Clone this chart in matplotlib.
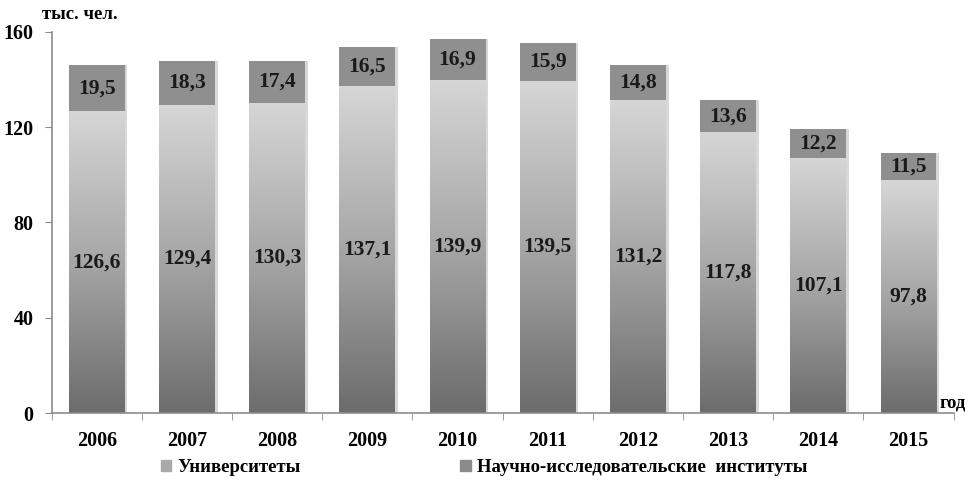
import matplotlib.pyplot as plt
import numpy as np
from matplotlib.colors import LinearSegmentedColormap
from matplotlib.patches import Rectangle

plt.rcParams['font.family'] = ['Liberation Serif', 'DejaVu Serif']
plt.rcParams['font.weight'] = 'bold'

# Data
years = ['2006', '2007', '2008', '2009', '2010', '2011', '2012', '2013', '2014', '2015']
universities = [126.6, 129.4, 130.3, 137.1, 139.9, 139.5, 131.2, 117.8, 107.1, 97.8]
institutes = [19.5, 18.3, 17.4, 16.5, 16.9, 15.9, 14.8, 13.6, 12.2, 11.5]

fmt = lambda v: f'{v:.1f}'.replace('.', ',')

fig = plt.figure(figsize=(9.76, 4.82), dpi=100)
ax = fig.add_axes([0.053, 0.143, 0.924, 0.791])

x = np.arange(len(years))
w = 0.62
axis_col = '#8c8c8c'

# soft shadow on the right of each bar
tot = np.array(universities) + np.array(institutes)
ax.bar(x + 0.03, tot, w, color='#d8d8d8', zorder=1, linewidth=0)

bars_u = ax.bar(x, universities, w, color='none', zorder=2, linewidth=0)
bars_i = ax.bar(x, institutes, w, bottom=universities, color='#8f8f8f', zorder=2, linewidth=0)

# vertical gradient fill for universities
cmap = LinearSegmentedColormap.from_list('g', ['#6c6c6c', '#a6a6a6', '#d6d6d6'])
grad = np.linspace(0, 1, 256).reshape(-1, 1)
for b in bars_u:
    x0, y0 = b.get_x(), b.get_y()
    im = ax.imshow(grad, cmap=cmap, origin='lower', aspect='auto',
                   extent=[x0, x0 + b.get_width(), y0, y0 + b.get_height()], zorder=2)
    im.set_clip_path(b)

for i in range(len(years)):
    ax.text(x[i], universities[i] / 2, fmt(universities[i]), ha='center', va='center',
            fontsize=15.5, color='#1a1a1a', zorder=3)
    ax.text(x[i], universities[i] + institutes[i] / 2, fmt(institutes[i]), ha='center',
            va='center', fontsize=15.5, color='#1a1a1a', zorder=3)

ax.set_xlim(-0.5, len(years) - 0.5)
ax.set_ylim(0, 160)
ax.set_yticks([0, 40, 80, 120, 160])
ax.set_xticks(x)
ax.set_xticklabels(years)
ax.set_xticks(np.arange(-0.5, len(years)), minor=True)
ax.tick_params(axis='x', which='major', length=0, pad=13, labelsize=14.5)
ax.tick_params(axis='x', which='minor', length=5, color=axis_col)
ax.tick_params(axis='y', length=5, color=axis_col, labelsize=14.5, pad=8)
for s in ['top', 'right']:
    ax.spines[s].set_visible(False)
for s in ['left', 'bottom']:
    ax.spines[s].set_color(axis_col)
    ax.spines[s].set_linewidth(1.2)

fig.text(0.043, 0.969, 'тыс. чел.', fontsize=13.5, ha='left', va='center')
fig.text(0.963, 0.163, 'год', fontsize=13.5, ha='left', va='center')

# legend
h1 = Rectangle((0, 0), 1, 1, color='#a9a9a9')
h2 = Rectangle((0, 0), 1, 1, color='#8a8a8a')
fig.legend([h1, h2], ['Университеты', 'Научно-исследовательские  институты'],
           loc='center', bbox_to_anchor=(0.496, 0.03), ncol=2, frameon=False,
           fontsize=13.5, handlelength=0.55, handleheight=0.55, handletextpad=0.35,
           columnspacing=8.5)

fig.savefig('out.png', dpi=100)
